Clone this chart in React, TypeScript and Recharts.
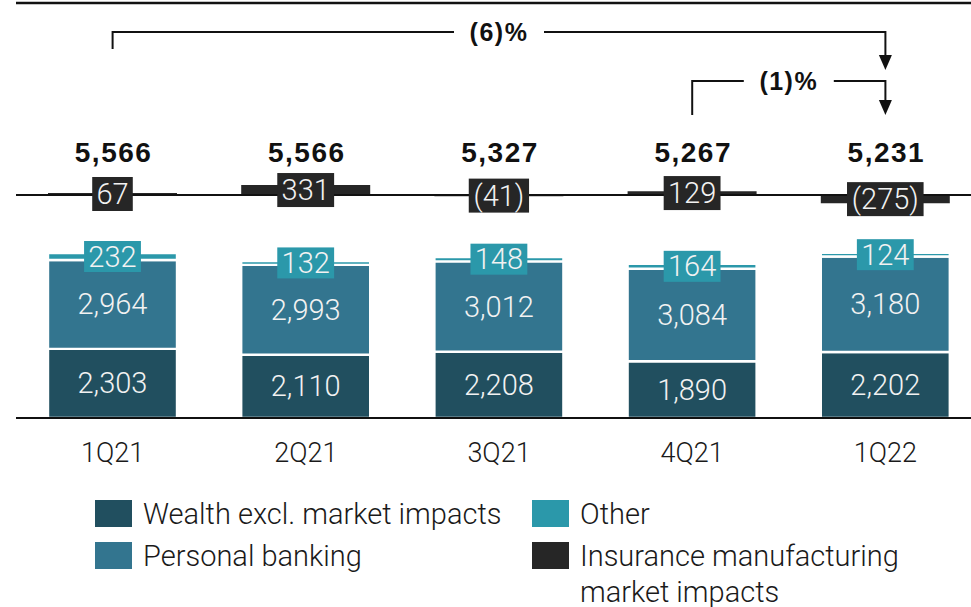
import React from 'react';
import { BarChart, Bar, XAxis, YAxis, LabelList, ReferenceLine, ReferenceDot } from 'recharts';

const quarters = ['1Q21', '2Q21', '3Q21', '4Q21', '1Q22'];
const wealth = [2303, 2110, 2208, 1890, 2202];
const personalBanking = [2964, 2993, 3012, 3084, 3180];
const other = [232, 132, 148, 164, 124];
const insurance = [67, 331, -41, 129, -275];
const totals = [5566, 5566, 5327, 5267, 5231];

// change brackets over the totals
const changeLabels = ['(6)%', '(1)%'];
const changeFrom = ['1Q21', '4Q21'];
const changeTo = ['1Q22', '1Q22'];

const series = [
  { key: 'wealth', name: 'Wealth excl. market impacts', color: '#214f5f' },
  { key: 'personalBanking', name: 'Personal banking', color: '#33758f' },
  { key: 'other', name: 'Other', color: '#2b98aa' },
  { key: 'insurance', name: 'Insurance manufacturing market impacts', color: '#262626' },
];

const data = quarters.map((quarter, i) => ({
  quarter,
  wealth: wealth[i],
  personalBanking: personalBanking[i],
  other: other[i],
  insurance: insurance[i],
}));

// layout (px)
const CHART_W = 990;
const CHART_H = 480;
const PLOT_TOP = 3;
const BASE_Y = 418;
const INS_ZERO_Y = 195;
const PX_PER_UNIT = 0.03;

const mainDomain = [0, (BASE_Y - PLOT_TOP) / PX_PER_UNIT];
const insDomain = [-(BASE_Y - INS_ZERO_Y) / PX_PER_UNIT, (INS_ZERO_Y - PLOT_TOP) / PX_PER_UNIT];
const insAt = (py: number) => (INS_ZERO_Y - py) / PX_PER_UNIT;

const bracketLevels = [32, 81];
const bracketDrops = [49, 115];
const bracketTips = [70, 115];

const INK = '#111';
const LABEL_FONT = 'Roboto, sans-serif';

const fmt = (n: number) => {
  const s = Math.abs(n).toLocaleString('en-US');
  return n < 0 ? `(${s})` : s;
};

const textWidth = (s: string, fs: number) =>
  s.split('').reduce((w, c) => w + (c === '(' || c === ')' ? 0.34 : c === ',' ? 0.2 : 0.5615), 0) * fs;

const SegmentLabel = (props: any) => {
  const { x, y, width, height, value } = props;
  return (
    <text
      x={x + width / 2}
      y={y + height / 2}
      textAnchor="middle"
      dominantBaseline="central"
      fill="#f2f2f2"
      fontSize={29}
      fontFamily={LABEL_FONT}
      fontWeight={300}
    >
      {fmt(value)}
    </text>
  );
};

const boxLabel = (fill: string, h: number) => (props: any) => {
  const { x, y, width, height, value } = props;
  const cx = x + width / 2;
  const cy = y + height / 2;
  const text = fmt(value);
  const w = textWidth(text, 29) + 8;
  return (
    <g>
      <rect x={cx - w / 2} y={cy - h / 2} width={w} height={h} fill={fill} />
      <text
        x={cx}
        y={cy}
        textAnchor="middle"
        dominantBaseline="central"
        fill="#f2f2f2"
        fontSize={29}
        fontFamily={LABEL_FONT}
        fontWeight={300}
      >
        {text}
      </text>
    </g>
  );
};

const TotalTick = (props: any) => {
  const { x, y, index } = props;
  return (
    <text
      x={x + 1}
      y={y}
      dy={159}
      textAnchor="middle"
      fill={INK}
      fontSize={28}
      fontWeight={700}
      letterSpacing={1.5}
      fontFamily="'Liberation Sans', Arial, sans-serif"
    >
      {totals[index].toLocaleString('en-US')}
    </text>
  );
};

const bracketText = (text: string) => (props: any) => {
  const vb = props.viewBox || {};
  const cx = vb.x + (vb.width || 0) / 2;
  const cy = vb.y + (vb.height || 0) / 2;
  return (
    <g>
      <rect x={cx - 45} y={cy - 16} width={90} height={32} fill="#fff" />
      <text
        x={cx}
        y={cy}
        textAnchor="middle"
        dominantBaseline="central"
        fill={INK}
        fontSize={25}
        fontWeight={700}
        letterSpacing={1.5}
        fontFamily="'Liberation Sans', Arial, sans-serif"
      >
        {text}
      </text>
    </g>
  );
};

const arrowHead = (props: any) => {
  const { cx, cy } = props;
  return <path d={`M${cx - 6.5},${cy - 15}L${cx + 6.5},${cy - 15}L${cx},${cy}Z`} fill={INK} />;
};

const legendOrder = ['wealth', 'other', 'personalBanking', 'insurance'];

const App = () => {
  return (
    <div style={{ position: 'relative', width: 971, height: 607, overflow: 'hidden', background: '#fff' }}>
      <style>{'body{margin:0}'}</style>
      <BarChart
        width={CHART_W}
        height={CHART_H}
        data={data}
        margin={{ top: 0, right: 8, left: 16, bottom: 0 }}
        barSize={129}
      >
        <XAxis
          xAxisId="main"
          dataKey="quarter"
          height={62}
          interval={0}
          axisLine={{ stroke: INK, strokeWidth: 2 }}
          tickLine={false}
          tickSize={0}
          tickMargin={25}
          tick={{ fontSize: 27, fill: '#1a1a1a', fontFamily: LABEL_FONT, fontWeight: 300 }}
        />
        <XAxis
          xAxisId="top"
          dataKey="quarter"
          orientation="top"
          height={3}
          interval={0}
          axisLine={{ stroke: INK, strokeWidth: 2.5 }}
          tickLine={false}
          tickSize={0}
          tickMargin={0}
          tick={<TotalTick />}
        />
        <YAxis yAxisId="main" hide type="number" domain={mainDomain} allowDataOverflow />
        <YAxis yAxisId="ins" hide type="number" domain={insDomain} allowDataOverflow />

        {changeLabels.map((label, i) => (
          <ReferenceLine
            key={`h-${i}`}
            xAxisId="top"
            yAxisId="ins"
            segment={[
              { x: changeFrom[i], y: insAt(bracketLevels[i]) },
              { x: changeTo[i], y: insAt(bracketLevels[i]) },
            ]}
            stroke={INK}
            strokeWidth={2}
            label={bracketText(label)}
          />
        ))}
        {changeLabels.map((label, i) => (
          <ReferenceLine
            key={`l-${i}`}
            xAxisId="top"
            yAxisId="ins"
            segment={[
              { x: changeFrom[i], y: insAt(bracketLevels[i] - 1) },
              { x: changeFrom[i], y: insAt(bracketDrops[i]) },
            ]}
            stroke={INK}
            strokeWidth={2}
          />
        ))}
        {changeLabels.map((label, i) => (
          <ReferenceLine
            key={`r-${i}`}
            xAxisId="top"
            yAxisId="ins"
            segment={[
              { x: changeTo[i], y: insAt(bracketLevels[i] - 1) },
              { x: changeTo[i], y: insAt(bracketTips[i] - 12) },
            ]}
            stroke={INK}
            strokeWidth={2}
          />
        ))}
        {changeLabels.map((label, i) => (
          <ReferenceDot
            key={`a-${i}`}
            xAxisId="top"
            yAxisId="ins"
            x={changeTo[i]}
            y={insAt(bracketTips[i])}
            shape={arrowHead}
          />
        ))}

        <Bar xAxisId="main" yAxisId="main" dataKey="wealth" stackId="s" fill={series[0].color} stroke="#fff" strokeWidth={2.4} isAnimationActive={false}>
          <LabelList dataKey="wealth" content={SegmentLabel} />
        </Bar>
        <Bar xAxisId="main" yAxisId="main" dataKey="personalBanking" stackId="s" fill={series[1].color} stroke="#fff" strokeWidth={2.4} isAnimationActive={false}>
          <LabelList dataKey="personalBanking" content={SegmentLabel} />
        </Bar>
        <Bar xAxisId="main" yAxisId="main" dataKey="other" stackId="s" fill={series[2].color} stroke="#fff" strokeWidth={2.4} isAnimationActive={false}>
          <LabelList dataKey="other" content={boxLabel(series[2].color, 31)} />
        </Bar>
        {/* zero line of the insurance impacts, kept under their bars and boxes */}
        <ReferenceLine xAxisId="top" yAxisId="ins" y={0} stroke={INK} strokeWidth={2} ifOverflow="visible" />
        <Bar xAxisId="top" yAxisId="ins" dataKey="insurance" fill={series[3].color} isAnimationActive={false}>
          <LabelList dataKey="insurance" content={boxLabel(series[3].color, 34)} />
        </Bar>
      </BarChart>

      <div
        style={{
          position: 'absolute',
          left: 95,
          top: 496,
          display: 'grid',
          gridTemplateColumns: '437px auto',
          rowGap: 6,
          fontFamily: LABEL_FONT,
          fontWeight: 300,
          fontSize: 29,
          lineHeight: '36px',
          color: '#1a1a1a',
        }}
      >
        {legendOrder.map((k) => {
          const s = series.find((d) => d.key === k)!;
          const wrap = k === 'insurance';
          return (
            <div key={k} style={{ display: 'flex', alignItems: 'flex-start' }}>
              <span style={{ width: 37, height: 27, marginTop: 4, marginRight: 11, background: s.color, flex: 'none' }} />
              <span style={wrap ? { width: 340 } : { whiteSpace: 'nowrap' }}>{s.name}</span>
            </div>
          );
        })}
      </div>
    </div>
  );
};

export default App;
